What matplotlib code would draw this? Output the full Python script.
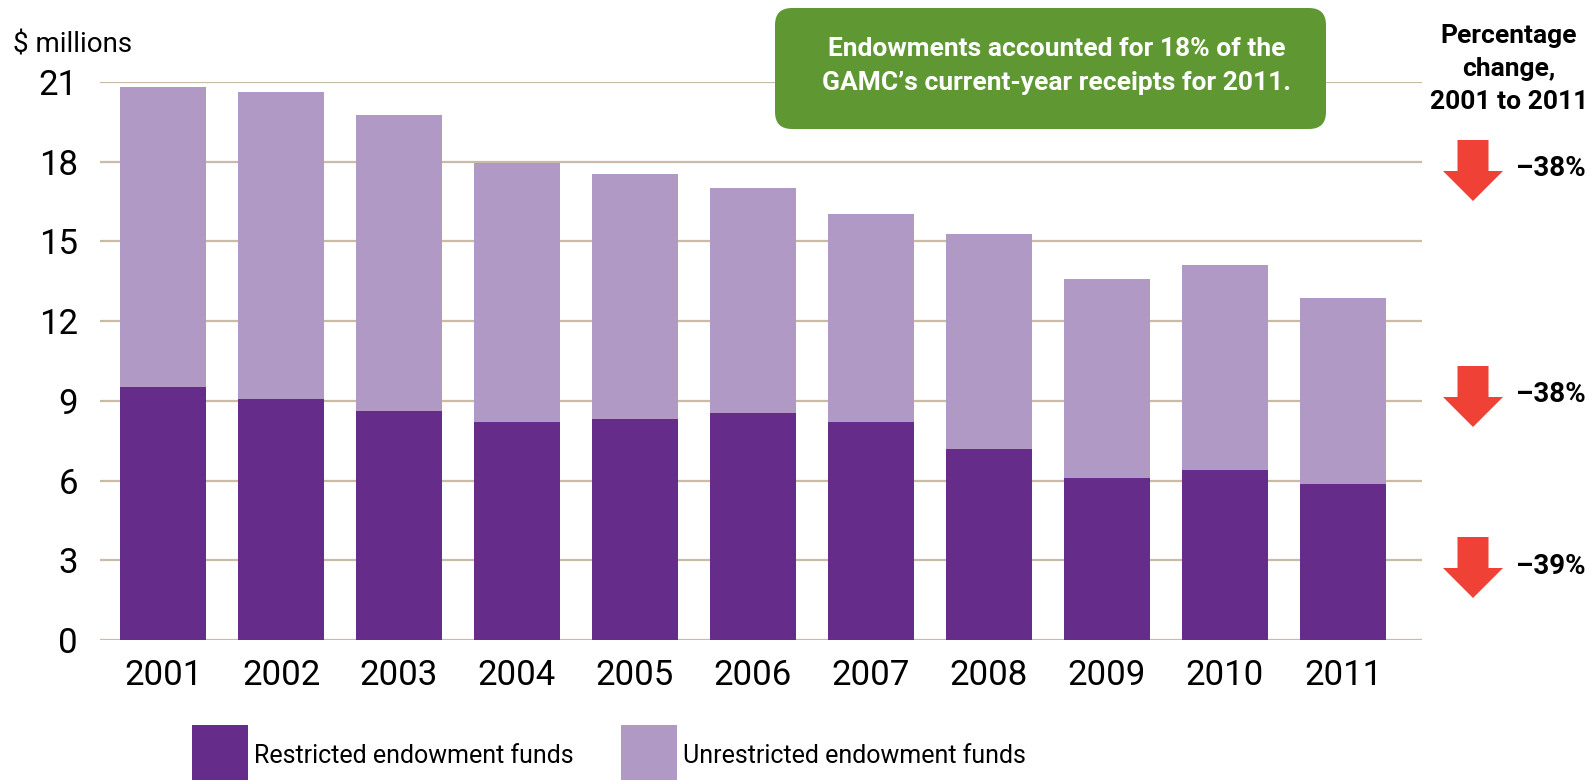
import matplotlib.pyplot as plt
from matplotlib.patches import FancyBboxPatch, Polygon, Rectangle

years = ['2001', '2002', '2003', '2004', '2005', '2006', '2007', '2008', '2009', '2010', '2011']
restricted = [9.54, 9.08, 8.62, 8.20, 8.31, 8.54, 8.20, 7.20, 6.09, 6.40, 5.86]
unrestricted = [11.26, 11.53, 11.15, 9.77, 9.24, 8.47, 7.85, 8.09, 7.51, 7.70, 7.01]
yticks = [0, 3, 6, 9, 12, 15, 18, 21]
changes = ['\u201338%', '\u201338%', '\u201339%']

dark = '#652c8a'
light = '#b09ac5'
grid = '#c9bca6'
green = '#5f9833'
red = '#ef4135'
reg = ['Roboto', 'DejaVu Sans']
bold = ['Liberation Sans Narrow', 'Roboto', 'DejaVu Sans']

fig = plt.figure(figsize=(15.93, 7.8), dpi=100)
ax = fig.add_axes([100 / 1593, 140 / 780, 1322 / 1593, 558 / 780])

x = range(len(years))
for y in yticks:
    ax.axhline(y, color=grid, lw=1.6, zorder=0)
ax.bar(x, restricted, width=0.73, color=dark, zorder=2)
ax.bar(x, unrestricted, bottom=restricted, width=0.73, color=light, zorder=2)

ax.set_xlim(-0.534, 10.67)
ax.set_ylim(0, 21)
ax.set_yticks(yticks)
ax.set_xticks(list(x))
ax.set_xticklabels(years, family=reg, fontsize=25)
ax.set_yticklabels([str(v) for v in yticks], family=reg, fontsize=25)
ax.tick_params(length=0)
ax.tick_params(axis='y', pad=16)
ax.tick_params(axis='x', pad=14)
for s in ax.spines.values():
    s.set_visible(False)

fig.text(13 / 1593, 1 - 45 / 780, '$ millions', family=reg, fontsize=20, va='center', ha='left')

# callout box
box = FancyBboxPatch((7.75, 6.51), 5.51, 1.21, boxstyle='round,pad=0,rounding_size=0.17',
                     transform=fig.dpi_scale_trans, facecolor=green, edgecolor='none', zorder=5)
fig.patches.append(box)
fig.text(1057 / 1593, 1 - 66 / 780,
         'Endowments accounted for 18% of the\nGAMC\u2019s current-year receipts for 2011.',
         family=bold, weight='bold', fontsize=19, color='white', ha='center', va='center',
         linespacing=1.5, zorder=6)

fig.text(1509 / 1593, 1 - 69 / 780, 'Percentage\nchange,\n2001 to 2011', family=bold,
         weight='bold', fontsize=19, ha='center', va='center', linespacing=1.45)

# arrows with percentage labels
for top, lab in zip([140, 366, 537], changes):
    cx = 14.73
    t = (780 - top) / 100
    sw, hw, sl, hl = 0.155, 0.30, 0.31, 0.30
    pts = [(cx - sw, t), (cx + sw, t), (cx + sw, t - sl), (cx + hw, t - sl),
           (cx, t - sl - hl), (cx - hw, t - sl), (cx - sw, t - sl)]
    fig.patches.append(Polygon(pts, closed=True, transform=fig.dpi_scale_trans,
                               facecolor=red, edgecolor='none'))
    fig.text(1516 / 1593, 1 - (top + 29) / 780, lab, family=bold, weight='bold',
             fontsize=20, ha='left', va='center')

# legend
for x0, col, lab in [(192, dark, 'Restricted endowment funds'),
                     (621, light, 'Unrestricted endowment funds')]:
    fig.patches.append(Rectangle((x0 / 1593, 0), 56 / 1593, 55 / 780,
                                 transform=fig.transFigure, facecolor=col, edgecolor='none'))
    fig.text((x0 + 62) / 1593, 1 - 756 / 780, lab, family=reg, fontsize=18,
             ha='left', va='center')

fig.savefig('out.png', dpi=100)
